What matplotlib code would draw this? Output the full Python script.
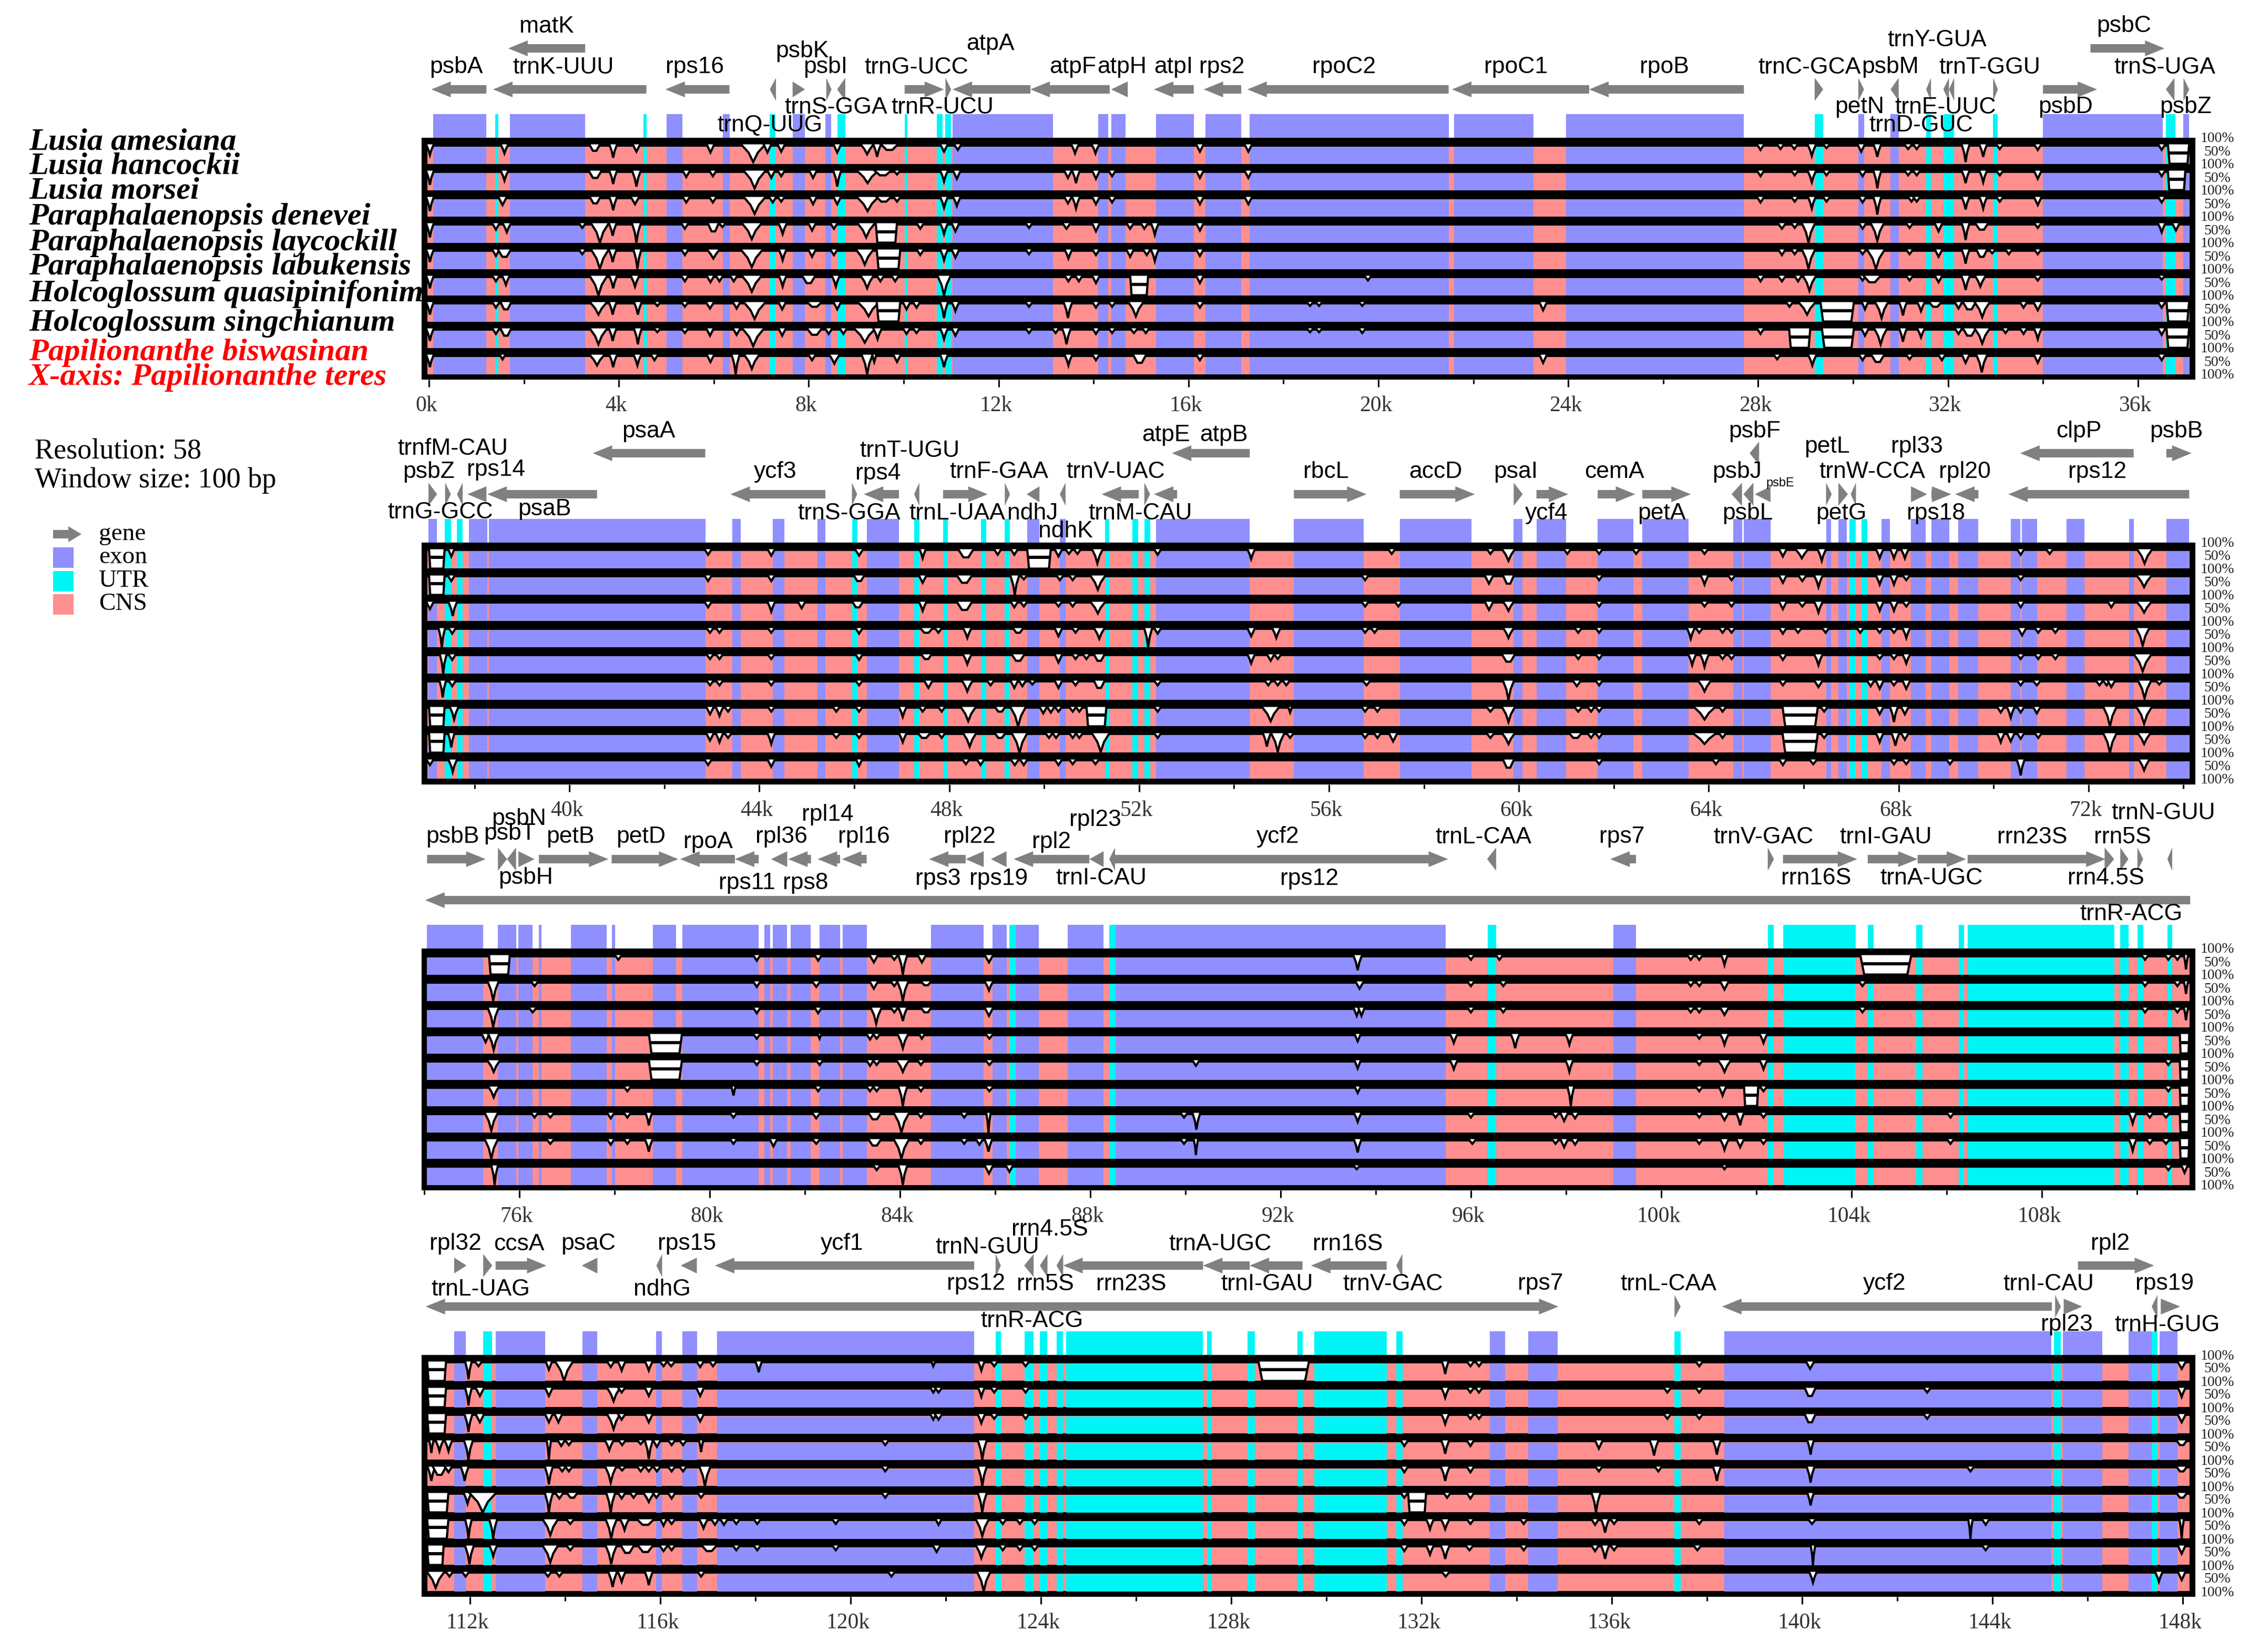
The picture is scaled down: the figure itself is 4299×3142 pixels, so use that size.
"""mVISTA-style identity plot of ten orchid plastomes."""

import matplotlib

matplotlib.use("Agg")
import matplotlib.pyplot as plt
from matplotlib.patches import Rectangle
from matplotlib.ticker import FuncFormatter, MultipleLocator
from matplotlib.transforms import ScaledTranslation

SPECIES = [
    "Lusia amesiana",
    "Lusia hancockii",
    "Lusia morsei",
    "Paraphalaenopsis denevei",
    "Paraphalaenopsis laycockill",
    "Paraphalaenopsis labukensis",
    "Holcoglossum quasipinifonim",
    "Holcoglossum singchianum",
    "Papilionanthe biswasinan",
    "X-axis: Papilionanthe teres",
]

ROW_STARTS = [0.0, 37.04, 74.1, 111.14]
ROW_PX_PER_KB = [90.3, 90.3, 90.5, 90.5]

# (start, end) in kb
EXONS = [
    [(0.09, 1.21), (1.70, 3.29), (5.01, 5.34), (6.19, 6.33), (7.66, 7.92), (8.35, 8.47), (11.03, 13.14),
     (14.10, 14.31), (14.37, 14.67), (15.32, 16.11), (16.36, 17.11), (17.29, 21.48), (21.6, 23.27),
     (23.95, 27.7), (30.11, 30.23), (30.79, 30.96), (34.0, 36.52), (36.96, 37.08)],
    [(37.03, 37.21), (37.88, 38.27), (38.3, 42.86), (43.43, 43.61), (44.28, 44.53), (45.22, 45.39),
     (46.26, 46.94), (49.64, 49.9), (50.33, 50.45), (52.36, 54.33), (55.26, 56.73), (57.49, 59.0),
     (59.89, 60.07), (60.37, 60.99), (61.66, 62.41), (62.6, 63.57), (64.51, 64.7), (64.74, 65.3),
     (66.47, 66.58), (66.73, 66.91), (67.64, 67.82), (68.26, 68.57), (68.69, 69.07), (69.25, 69.68),
     (70.36, 70.56), (70.6, 70.92), (71.54, 71.91), (72.85, 72.95), (73.64, 74.12)],
    [(74.06, 75.24), (75.55, 75.93), (75.98, 76.28), (76.41, 76.46), (77.08, 77.83), (77.94, 78.01),
     (78.81, 79.29), (79.43, 81.03), (81.15, 81.27), (81.33, 81.63), (81.7, 82.12), (82.31, 82.74),
     (82.8, 83.3), (84.65, 85.76), (85.95, 86.24), (86.43, 86.92), (87.53, 88.28), (88.53, 95.47),
     (98.99, 99.47)],
    [(111.67, 111.91), (112.54, 113.58), (114.37, 114.68), (115.91, 116.04), (116.47, 116.77),
     (117.19, 122.6), (133.44, 133.76), (134.25, 134.86), (138.37, 145.24), (145.48, 146.31),
     (146.86, 147.35), (147.52, 147.89)],
]

UTRS = [
    [(1.40, 1.46), (4.52, 4.58), (7.18, 7.3), (8.6, 8.77), (10.02, 10.08), (10.7, 10.82), (10.88, 11.0),
     (29.19, 29.37), (31.54, 31.64), (31.9, 32.13), (32.95, 33.05), (36.59, 36.79)],
    [(37.37, 37.5), (37.63, 37.75), (45.95, 46.06), (47.26, 47.37), (47.87, 47.97), (48.67, 48.78),
     (49.17, 49.28), (51.28, 51.37), (51.86, 51.98), (52.11, 52.23), (66.96, 67.1), (67.22, 67.34)],
    [(86.3, 86.43), (88.4, 88.53), (96.35, 96.53), (102.24, 102.37), (102.56, 104.09), (104.34, 104.46),
     (105.36, 105.49), (106.25, 106.36), (106.44, 109.52), (109.65, 109.82), (110.01, 110.13),
     (110.64, 110.74)],
    [(112.28, 112.47), (123.05, 123.16), (123.66, 123.85), (123.98, 124.14), (124.33, 124.47),
     (124.53, 127.41), (127.49, 127.59), (128.34, 128.5), (129.39, 129.5), (129.75, 131.27),
     (131.47, 131.6), (137.32, 137.45), (145.3, 145.44), (147.35, 147.47)],
]

# (tail, head, lane): head < tail points left; lane 1 is the upper arrow row
GENES = [
    [(1.21, 0.05, 0), (3.29, 1.67, 1), (4.58, 1.35, 0), (6.33, 4.98, 0), (7.31, 7.18, 0), (7.66, 7.92, 0),
     (8.37, 8.48, 0), (8.77, 8.6, 0), (10.02, 10.85, 0), (10.88, 11.0, 0), (12.67, 11.03, 0),
     (14.34, 12.67, 0), (14.72, 14.37, 0), (16.11, 15.27, 0), (17.11, 16.32, 0), (21.48, 17.24, 0),
     (24.44, 21.55, 0), (27.7, 24.44, 0), (29.19, 29.37, 0), (30.11, 30.23, 0), (30.96, 30.79, 0),
     (31.64, 31.54, 0), (32.02, 31.9, 0), (32.13, 32.02, 0), (32.95, 33.05, 0), (34.0, 35.14, 0),
     (35.0, 36.56, 1), (36.77, 36.59, 0), (36.96, 37.08, 0)],
    [(37.03, 37.21, 0), (37.38, 37.5, 0), (37.75, 37.63, 0), (38.25, 37.85, 0), (40.58, 38.27, 0),
     (42.86, 40.49, 1), (45.39, 43.39, 0), (45.95, 46.06, 0), (46.94, 46.2, 0), (47.37, 47.26, 0),
     (47.87, 48.81, 0), (49.17, 49.28, 0), (49.9, 49.63, 0), (50.45, 50.33, 0), (51.99, 51.21, 0),
     (52.11, 52.23, 0), (52.8, 52.31, 0), (54.33, 52.69, 1), (55.26, 56.79, 0), (57.49, 59.07, 0),
     (59.89, 60.08, 0), (60.37, 61.04, 0), (61.66, 62.45, 0), (62.6, 63.62, 0), (64.7, 64.48, 0),
     (64.94, 64.73, 0), (65.3, 64.97, 0), (65.06, 64.86, 1), (66.47, 66.59, 0), (66.73, 66.93, 0),
     (67.1, 66.99, 0), (68.26, 68.6, 0), (68.69, 69.11, 0), (69.68, 69.19, 0), (74.12, 70.31, 0),
     (72.95, 70.56, 1), (73.64, 74.17, 1)],
    [(74.06, 75.29, 1), (75.55, 75.74, 1), (75.93, 75.74, 1), (75.98, 76.32, 1), (76.41, 77.87, 1),
     (77.94, 79.34, 1), (80.53, 79.38, 1), (81.03, 80.53, 1), (81.63, 81.29, 1), (82.13, 81.65, 1),
     (82.74, 82.27, 1), (83.3, 82.78, 1), (85.38, 84.61, 1), (85.76, 85.38, 1), (86.24, 85.91, 1),
     (87.98, 86.39, 1), (88.28, 87.98, 1), (88.52, 88.4, 1), (88.52, 95.52, 1), (96.53, 96.34, 1),
     (99.47, 98.93, 1), (102.24, 102.37, 1), (102.56, 104.12, 1), (104.34, 105.39, 1), (105.39, 106.41, 1),
     (106.44, 109.34, 1), (109.32, 109.52, 1), (109.65, 109.82, 1), (110.01, 110.13, 1), (110.74, 110.64, 1),
     (111.12, 74.02, 0)],
    [(111.67, 111.93, 1), (112.28, 112.47, 1), (112.54, 113.61, 1), (114.68, 114.35, 1), (116.04, 115.92, 1),
     (116.77, 116.43, 1), (122.6, 117.15, 1), (123.05, 123.16, 1), (123.85, 123.65, 1), (124.14, 123.98, 1),
     (124.47, 124.33, 1), (127.41, 124.47, 1), (128.39, 127.41, 1), (129.5, 128.39, 1), (131.27, 129.68, 1),
     (131.6, 131.47, 1), (134.3, 111.07, 0), (134.25, 134.88, 0), (137.32, 137.45, 0), (145.25, 138.32, 0),
     (145.32, 145.44, 0), (145.5, 145.89, 0), (145.8, 147.4, 1), (147.47, 147.35, 0), (147.54, 147.95, 0)],
]

# (name, kb, height of the label in px above the panel top)
GENE_LABELS = [
    [("matK", 2.48, 212), ("psbA", 0.57, 134), ("trnK-UUU", 2.83, 134), ("rps16", 5.6, 134), ("psbK", 7.86, 165),
     ("psbI", 8.35, 134), ("trnG-UCC", 10.27, 134), ("atpA", 11.83, 179), ("atpF", 13.56, 134), ("atpH", 14.6, 134),
     ("trnS-GGA", 8.57, 58), ("trnR-UCU", 10.82, 58), ("trnQ-UUG", 7.18, 24), ("atpI", 15.68, 134),
     ("rps2", 16.7, 134), ("rpoC2", 19.27, 134), ("rpoC1", 22.9, 134), ("rpoB", 26.02, 134), ("trnC-GCA", 29.08, 134),
     ("psbM", 30.78, 134), ("trnY-GUA", 31.77, 185), ("trnT-GGU", 32.88, 134), ("psbC", 35.7, 212),
     ("trnS-UGA", 36.57, 134), ("petN", 30.13, 58), ("trnE-UUC", 31.95, 58), ("psbD", 34.47, 58), ("psbZ", 37.0, 58),
     ("trnD-GUC", 31.43, 24)],
    [("psaA", 41.67, 211), ("trnfM-CAU", 37.54, 178), ("psbZ", 37.04, 134), ("rps14", 38.45, 138), ("trnG-GCC", 37.28, 57),
     ("psaB", 39.48, 63), ("ycf3", 44.33, 134), ("trnT-UGU", 47.17, 174), ("rps4", 46.5, 131), ("trnF-GAA", 49.05, 134),
     ("trnV-UAC", 51.51, 134), ("trnS-GGA", 45.89, 55), ("trnL-UAA", 48.17, 55), ("ndhJ", 49.76, 55), ("ndhK", 50.45, 21),
     ("trnM-CAU", 52.03, 55), ("atpE", 52.57, 204), ("atpB", 53.78, 204), ("rbcL", 55.94, 134), ("accD", 58.25, 134),
     ("psaI", 59.93, 134), ("ycf4", 60.58, 55), ("cemA", 62.01, 134), ("petA", 63.01, 55), ("psbF", 64.96, 211),
     ("psbJ", 64.59, 134), ("psbL", 64.82, 55), ("petL", 66.49, 182), ("trnW-CCA", 67.44, 134), ("petG", 66.79, 55),
     ("rpl33", 68.39, 182), ("rpl20", 69.39, 134), ("rps18", 68.78, 55), ("rps12", 72.18, 134), ("clpP", 71.79, 211),
     ("psbB", 73.85, 211)],
    [("psbB", 74.6, 212), ("psbT", 75.8, 219), ("psbN", 75.99, 247), ("psbH", 76.13, 134), ("petB", 77.07, 212),
     ("petD", 78.55, 212), ("rpoA", 79.97, 203), ("rps11", 80.78, 125), ("rps8", 82.01, 125), ("rpl36", 81.51, 212),
     ("rpl14", 82.48, 255), ("rpl16", 83.24, 212), ("rps3", 84.8, 132), ("rpl22", 85.46, 212), ("rps19", 86.07, 132),
     ("rpl2", 87.18, 203), ("rpl23", 88.1, 245), ("trnI-CAU", 88.23, 134), ("ycf2", 91.94, 212), ("rps12", 92.6, 132),
     ("trnL-CAA", 96.26, 212), ("rps7", 99.18, 212), ("trnV-GAC", 102.15, 212), ("rrn16S", 103.26, 134),
     ("trnI-GAU", 104.72, 212), ("trnA-UGC", 105.68, 134), ("rrn23S", 107.8, 212), ("rrn5S", 109.7, 212),
     ("rrn4.5S", 109.35, 134), ("trnR-ACG", 109.88, 65), ("trnN-GUU", 110.55, 258)],
    [("rpl32", 111.7, 211), ("ccsA", 113.03, 211), ("psaC", 114.49, 211), ("rps15", 116.56, 211), ("ycf1", 119.82, 211),
     ("trnN-GUU", 122.88, 204), ("rrn4.5S", 124.19, 239), ("trnA-UGC", 127.77, 211), ("rrn16S", 130.45, 211),
     ("trnL-UAG", 112.23, 125), ("ndhG", 116.04, 125), ("rps12", 122.64, 135), ("rrn5S", 124.09, 135), ("rrn23S", 125.9, 135),
     ("trnI-GAU", 128.76, 135), ("trnR-ACG", 123.81, 64), ("trnV-GAC", 131.4, 135), ("rps7", 134.5, 135),
     ("trnL-CAA", 137.19, 135), ("ycf2", 141.73, 135), ("trnI-CAU", 145.18, 135), ("rpl23", 145.57, 57),
     ("rpl2", 146.48, 211), ("rps19", 147.62, 135), ("trnH-GUG", 147.68, 57)],
]

# per row, per track: (position kb, depth 0-1 of the coloured band[, width kb])
DIPS_ROW1 = [
    [(.02, .5), (1.59, .4), (3.49, .25, .25), (3.88, .65), (4.37, .3), (5.93, .35), (6.83, .9, .55), (7.13, .35), (7.42, .3),
     (8.6, .35), (9.23, .45, .3), (9.44, .6), (9.7, .2, .4), (10.85, .3), (11.14, .2), (13.61, .4), (14.04, .4), (16.24, .3),
     (17.26, .3), (28.05, .2), (28.47, .15), (28.76, .15), (29.13, .55, .2), (29.44, .1), (30.17, .3), (30.51, .6),
     (31.16, .15, .2), (31.34, .15), (32.37, .9), (32.74, .6), (33.09, .15), (33.89, .2), (36.5, .2)],
    [(.02, .7), (1.59, .45), (3.5, .3, .3), (3.88, .65), (4.37, .8, .2), (5.42, .25), (5.98, .2), (6.86, .9, .5), (7.21, .3),
     (7.42, .2), (8.09, .3), (8.6, .8), (9.24, .6, .5), (9.56, .15, .4), (9.86, .1), (10.85, .5), (11.12, .35), (13.46, .3),
     (13.63, .6), (14.05, .35), (14.39, .2), (16.24, .3), (17.26, .3), (28.05, .2), (28.77, .15), (29.13, .55, .2), (29.44, .15),
     (30.2, .2), (30.51, .9), (31.16, .15), (31.34, .15), (32.37, .6), (32.74, .55), (33.09, .15), (33.89, .35), (36.5, .2)],
    [(.02, .7), (1.55, .35, .2), (3.5, .25, .25), (3.88, .65), (4.34, .3, .2), (5.42, .2), (5.98, .2), (6.86, .85, .5), (7.24, .2),
     (7.42, .15), (8.09, .3), (8.6, .3), (9.24, .7, .5), (9.58, .15, .35), (9.86, .15), (10.85, .5), (11.12, .4), (13.46, .25),
     (13.63, .55), (14.05, .3), (14.39, .2), (16.24, .3), (17.26, .3), (28.05, .2), (28.77, .15), (29.13, .55), (29.44, .15),
     (30.2, .2), (30.51, .9), (31.23, .15), (31.34, .15), (32.37, .6), (32.74, .55), (33.09, .15), (33.89, .35), (36.5, .2)],
    [(.02, .7), (1.41, .25), (1.64, .4, .2), (3.23, .15), (3.6, 1, .4), (3.87, .6), (4.37, 1, .2), (5.39, .2), (5.99, .35, .25),
     (6.18, .1), (6.8, .8, .45), (7.45, .5, .2), (8.07, .3), (8.53, .2), (9.21, .7, .4), (10.35, .2), (10.85, .5), (11.09, .35),
     (12.64, .15), (13.43, .2, .2), (14.05, .35), (14.77, .2), (15.07, .2), (15.29, .55), (16.24, .3), (28.5, .2, .2), (28.77, .15),
     (29.06, 1, .3), (30.2, .2), (30.51, .9, .3), (31.19, .15), (31.8, .35), (32.37, .85), (32.71, .25, .3), (33.89, .15),
     (36.5, .4), (36.8, .3)],
    [(.02, .6), (1.41, .25), (1.59, .3, .3), (3.23, .15), (3.6, 1, .4), (3.87, .6), (4.39, 1), (5.39, .2), (5.99, .4, .3),
     (6.8, .9, .5), (7.45, .5), (8.07, .3), (8.53, .2), (9.18, .75, .4), (10.35, .2), (10.85, .5), (11.09, .35), (12.64, .15),
     (13.47, .4), (14.05, .2), (14.77, .3), (15.12, .2), (15.29, .55), (16.24, .25), (28.5, .2), (28.77, .15), (29.06, 1, .3),
     (30.2, .15), (30.48, 1, .4), (31.19, .15), (31.8, .3), (32.37, .7), (32.71, .3, .25), (32.93, .1), (33.28, .15), (33.89, .15)],
    [(.02, .6), (1.41, .2), (1.62, .4), (3.57, 1, .4), (3.88, .6), (4.34, .5, .2), (5.39, .2), (5.93, .25), (6.12, .2), (6.42, .2),
     (6.8, .8, .45), (7.45, .5), (8.0, .3, .3), (8.57, .5), (9.23, .6, .3), (9.51, .2), (9.82, .2), (10.85, 1, .3), (13.47, .2),
     (13.69, .2), (14.05, .3), (16.24, .3), (19.78, .15), (28.05, .2), (28.5, .2, .2), (28.84, .2), (29.08, .75, .3), (30.2, .15),
     (30.4, .25, .4), (31.19, .15), (31.8, .25), (32.37, .7, .2), (32.68, .5, .25), (33.89, .15), (36.5, .1)],
    [(.02, .6), (1.41, .2), (1.62, .3, .25), (3.57, .6, .4), (3.87, .6), (4.4, .6), (4.81, .1), (5.39, .15), (5.92, .25, .2),
     (6.48, .25), (6.86, .85, .5), (7.44, .3), (8.12, .15, .35), (8.6, .3), (9.26, .7, .5), (10.06, .3), (10.27, .2), (10.85, .8),
     (11.09, .4), (12.64, .15), (13.46, .8, .2), (14.05, .2), (14.39, .15), (14.89, .7, .35), (16.24, .2), (18.56, .1), (18.75, .1),
     (19.66, .1), (23.47, .35), (28.66, .15), (29.03, .6, .4), (30.25, .3, .15), (30.6, .8, .3), (31.05, .65), (31.43, .4),
     (31.73, .15, .3), (32.22, .25), (32.45, .3, .3), (32.72, .75, .35), (33.59, .2), (33.89, .35, .2), (36.5, .2)],
    [(.02, .6), (1.41, .2), (1.62, .3, .25), (3.57, .8, .4), (3.87, .6), (4.4, .8), (4.81, .1), (5.39, .15), (5.92, .3), (6.48, .25),
     (6.83, .9, .5), (7.44, .3), (8.12, .25, .35), (8.42, .2), (8.73, .2), (9.18, .7, .5), (9.45, .5, .2), (10.06, .2), (10.27, .15),
     (10.85, .5), (11.09, .3), (12.64, .15), (13.2, .15), (13.43, .8, .2), (14.05, .2), (14.39, .15), (14.85, .15, .2), (15.1, .15),
     (18.56, .1), (18.75, .1), (19.66, .15), (28.05, .2), (30.25, .3), (30.58, .8, .3), (31.05, .65), (31.43, .4), (32.22, .2),
     (32.45, .3, .3), (32.72, .75, .35), (33.21, .15), (33.59, .2), (33.89, .5), (36.5, .25)],
    [(.02, .6), (1.55, .15, .15), (3.54, .5, .35), (3.88, .6), (4.39, .5), (4.75, .2), (5.93, .3), (6.46, 1), (6.8, .7, .35),
     (8.07, .2), (8.54, .4, .25), (9.23, 1, .25), (9.38, .3, .1), (9.86, .3), (10.85, .6), (13.47, .5), (14.05, .2), (14.97, .35, .3),
     (16.24, .2), (23.47, .35), (28.4, .15), (29.14, .5, .2), (30.2, .2), (30.52, .3, .3), (31.19, .15), (31.87, .2), (32.37, .35),
     (32.71, .9, .25), (33.89, .35), (36.5, .2)],
]

DIPS_ROW2 = [
    [(37.51, .3, .15), (42.92, .2), (44.25, .25), (46.1, .25, .2), (47.44, .4, .15), (48.35, .35, .35), (49.02, .2), (49.37, .2),
     (50.3, .3), (50.52, .15), (50.7, .15), (51.12, .7, .25), (52.39, .2), (54.36, .45), (57.32, .15), (59.4, .15), (59.78, .55, .3),
     (61.02, .15), (61.69, .15), (62.47, .15), (63.91, .15), (65.56, .3), (65.96, .4, .3), (66.38, .55, .2), (67.6, .4), (67.9, .4),
     (68.13, .4), (70.57, .2), (71.18, .15), (73.18, .7, .35)],
    [(37.51, .2), (42.92, .2), (44.25, .2), (46.1, .2, .25), (47.44, .3), (48.32, .3, .35), (49.38, 1, .2), (49.57, .1), (50.33, .15),
     (50.6, .15), (51.13, .7, .35), (56.76, .15), (59.37, .35, .2), (59.78, .35, .25), (61.69, .15), (63.91, .4), (64.48, .15),
     (65.56, .3), (65.97, .2, .2), (66.31, .55, .2), (67.6, .4), (67.9, .4), (68.16, .15), (70.57, .15), (73.17, .55, .35)],
    [(37.06, .3), (37.54, .7, .2), (42.92, .2), (44.25, .45), (44.89, .25), (46.07, .2, .25), (47.44, .4), (48.32, .35, .35), (49.37, .2),
     (49.57, .15), (50.3, .15), (50.6, .15), (51.13, .55, .35), (56.76, .15), (57.46, .15), (59.37, .35, .2), (59.78, .4, .25),
     (61.69, .15), (63.91, .15), (64.48, .15), (65.56, .3), (65.97, .15, .2), (66.31, .5, .2), (67.6, .4), (67.9, .4), (68.16, .15),
     (70.57, .2), (72.48, .2), (73.17, .5, .35)],
    [(37.31, 1, .15), (37.53, .2), (42.96, .15), (43.16, .15), (44.25, .15), (46.1, .2), (47.52, .15, .3), (47.77, .15), (48.38, .45, .2),
     (49.45, .15, .25), (50.3, .35), (50.66, .15), (51.16, .5, .25), (52.19, 1), (52.39, .2), (54.36, .35), (54.89, .45, .2), (56.76, .15),
     (56.96, .15), (59.78, .45, .25), (61.25, .15), (61.69, .15), (63.62, .5), (63.8, .15), (64.29, .15), (64.48, .15), (65.56, .2),
     (65.88, .15), (66.46, .15), (67.19, .15), (67.6, .15), (67.9, .15), (68.16, .45), (70.6, .3, .2), (70.94, .15), (71.3, .15), (73.14, .9, .3)],
    [(37.34, 1, .15), (37.53, .2), (42.96, .15), (43.16, .15), (44.25, .15), (46.1, .2), (47.52, .15, .25), (48.38, .45, .2), (49.45, .25, .3),
     (50.3, .35), (50.66, .15), (50.89, .15), (51.16, .25, .25), (54.36, .4), (54.77, .25), (54.92, .15), (59.78, .3, .3), (61.25, .15),
     (61.69, .15), (63.65, .5), (63.91, .6, .2), (64.29, .15), (64.48, .15), (65.56, .2), (66.31, .5, .2), (67.6, .15), (67.9, .15),
     (68.16, .4), (70.57, .15), (70.94, .15), (71.3, .15), (73.14, .85, .4)],
    [(37.33, .85, .15), (37.53, .2), (42.96, .15), (43.16, .15), (44.25, .15), (46.1, .15), (47.56, .3, .2), (48.38, .5, .25), (48.87, .15),
     (49.37, .3), (49.54, .2), (49.75, .1), (50.3, .3), (50.66, .15), (51.16, .3, .25), (52.39, .15), (54.72, .15), (54.92, .15), (55.1, .15),
     (56.79, .15, .2), (59.78, 1, .25), (61.22, .2, .2), (61.69, .15), (63.91, .5, .3), (65.56, .15), (66.31, .25, .2), (67.41, .2), (67.6, .35),
     (67.9, .15), (68.16, .35), (70.57, .15), (70.91, .15, .2), (72.23, .15), (72.38, .15), (72.48, .25), (73.18, .9, .3), (73.49, .1)],
    [(37.57, .6, .2), (42.96, .3), (43.16, .4), (43.34, .15), (44.25, .15), (45.62, .15), (46.1, .15), (47.02, .45), (47.44, .15), (47.84, .15),
     (48.4, .7, .35), (49.07, .15, .25), (49.45, 1, .35), (49.98, .25), (50.14, .2), (50.3, .15), (50.6, .15), (50.74, .15), (52.39, .15),
     (54.77, .7, .4), (55.18, .2, .1), (56.76, .15), (57.02, .15), (59.4, .15, .2), (59.78, .75, .3), (61.25, .15, .2), (61.52, .15), (61.69, .15),
     (63.91, .6, .5), (64.29, .15), (66.43, .15), (67.6, .3), (67.9, .75), (68.13, .3), (70.15, .2), (70.36, .5), (70.57, .2), (70.91, .25),
     (72.45, 1, .3), (73.17, .85, .35)],
    [(37.51, .7, .15), (42.96, .3), (43.16, .4), (43.34, .15), (44.25, .5), (45.62, .15, .2), (46.1, .15), (47.02, .4), (47.47, .15, .3), (47.84, .15),
     (48.43, .65, .3), (49.07, .15, .25), (49.48, 1, .35), (50.1, .15), (50.25, .15), (50.6, .15), (50.74, .15), (51.19, .95, .4), (52.39, .15),
     (54.69, .65), (54.92, .95, .3), (55.18, .15), (56.76, .15), (57.02, .15), (57.35, .35, .2), (59.4, .15, .2), (59.78, .5, .3), (61.19, .15, .3),
     (61.52, .15), (61.69, .15), (63.91, .5, .55), (64.29, .15), (66.43, .15), (67.6, .4), (67.93, .6), (68.13, .25), (70.15, .4), (70.36, .35),
     (70.57, .2), (70.94, .15), (72.45, 1, .3), (73.17, .5, .3)],
    [(37.06, .2), (37.54, .6, .2), (42.92, .2), (44.25, .3), (46.1, .25, .15), (48.35, .15), (48.66, .2), (49.38, .2, .2), (49.57, .2), (50.3, .2),
     (50.6, .15), (51.08, .15), (59.78, .35, .25), (61.69, .15), (64.15, .15), (65.56, .2), (66.2, .15, .2), (67.9, .15), (68.16, .15), (69.08, .15),
     (70.57, .8), (73.17, .5, .25)],
]

DIPS_ROW3 = [
    [(78.08, .15), (80.99, .2), (82.28, .2), (83.45, .3, .2), (83.88, .15), (84.06, 1, .2), (84.46, .3, .2), (85.87, .3, .2), (93.62, .75, .2), (96.0, .15),
     (96.6, .15), (100.62, .15), (100.8, .15), (101.33, .45, .15), (110.17, .15), (110.66, .15), (110.85, .15), (111.03, .7, .1)],
    [(75.45, 1, .25), (76.32, .15), (80.99, .2), (82.24, .2, .2), (83.45, .3, .2), (83.88, .15), (84.06, 1, .25), (84.55, .1, .25), (85.87, .4, .2),
     (93.66, .3, .2), (96.0, .15), (96.68, .15), (100.62, .15), (100.8, .15), (101.33, .35, .2), (104.23, .15), (110.17, .15), (110.85, .15), (111.03, .6, .1)],
    [(75.45, 1, .25), (76.28, .15, .2), (80.99, .2), (82.28, .2), (83.5, .8, .25), (83.88, .15), (84.06, .65, .2), (84.55, .15, .25), (85.87, .35, .2),
     (93.6, .35, .15), (93.7, .35, .15), (96.0, .15), (96.68, .15), (100.62, .15), (100.8, .15), (101.33, .3, .2), (104.23, .15), (110.17, .15), (110.85, .15), (111.03, .6, .1)],
    [(75.29, .35), (75.46, .8, .25), (80.99, .15), (82.31, .15, .1), (83.37, .2), (83.51, .15), (84.06, .7, .25), (84.46, .15, .15), (85.88, .15, .2),
     (93.62, .3, .15), (95.64, .4), (96.93, .7, .2), (98.07, .5), (100.8, .15), (101.33, .5, .2), (102.15, .4)],
    [(75.46, .55, .3), (80.99, .15), (82.31, .15), (83.37, .2), (83.51, .15), (84.06, .55, .3), (84.44, .15), (85.88, .15, .2), (90.22, .2), (93.62, .35, .15),
     (95.64, .4), (98.07, .55), (100.8, .15), (101.33, .55, .3), (102.15, .4), (110.66, .15)],
    [(75.46, .5, .25), (78.27, .15), (80.5, .4, .1), (82.28, .15), (83.37, .15), (83.51, .15), (84.06, 1, .2), (84.44, .15), (85.88, .15, .2), (93.62, .25, .15),
     (98.1, 1, .15), (100.8, .15), (101.29, .4), (102.15, .15), (110.66, .15)],
    [(75.41, .9, .3), (76.32, .15), (76.65, .15, .2), (77.92, .2), (78.27, .15), (78.72, .6, .15), (80.5, .15), (82.24, .2, .2), (83.47, .25, .3), (84.03, 1, .35),
     (84.44, .15), (85.35, .15), (85.86, 1, .1), (89.97, .15), (90.23, .85), (93.62, .4), (96.0, .15), (97.78, .15), (97.96, .35), (98.19, .2), (100.8, .15),
     (101.33, .3, .2), (101.66, .6), (102.15, .15), (106.08, .15), (109.91, .5), (110.27, .15), (110.61, .15, .2)],
    [(75.41, 1, .3), (76.65, .15, .2), (77.92, .2), (78.27, .15), (78.72, .6), (80.5, .15), (81.34, .3), (82.24, .15, .2), (83.47, .25, .3), (84.03, 1, .35),
     (84.44, .15), (85.35, .15), (85.67, .2), (85.86, .6), (89.97, .15), (90.22, .8, .1), (93.62, .65), (96.03, .15, .2), (97.78, .15), (97.96, .35), (98.19, .2),
     (100.8, .15), (101.33, .5, .2), (101.66, .35), (102.15, .15), (106.08, .15), (109.91, .55), (110.27, .15), (110.61, .15, .2)],
    [(75.48, 1, .15), (83.51, .15), (84.06, 1, .2), (85.87, .35, .2), (86.3, .25), (93.6, .1), (101.33, .1, .15), (110.66, .15), (111.0, .3, .15)],
]

DIPS_ROW4 = [
    [(111.97, .9, .15), (112.18, .15), (113.66, .35, .15), (113.98, 1, .4), (114.96, .2), (115.19, .4), (115.76, .4), (116.07, .15), (116.23, .15, .2),
     (116.84, .2), (117.11, .15), (118.07, .5, .15), (121.74, .15, .1), (122.75, .4, .15), (123.02, .15), (123.68, .15), (132.5, .6, .15), (133.03, .15),
     (133.21, .15), (137.84, .15), (140.17, .3, .2), (147.98, .3, .2)],
    [(111.97, .9, .15), (112.21, .35, .2), (113.66, .35), (115.02, .65, .3), (115.19, .15), (115.76, .35), (116.84, .35), (121.74, .15, .15), (121.85, .15),
     (122.75, .4, .15), (123.02, .15), (123.68, .15), (132.5, .45), (133.03, .15), (133.21, .15), (137.17, .15), (137.84, .15), (140.17, .35, .25),
     (142.63, .15), (147.98, .4)],
    [(111.97, .9), (112.21, .35, .2), (113.66, .35), (113.86, .35), (115.02, .75, .3), (115.19, .2), (115.76, .35), (116.84, .3), (121.74, .2, .15), (121.85, .2),
     (122.75, .4), (123.02, .15), (123.68, .15), (132.5, .45), (133.03, .15), (133.21, .15), (137.17, .15), (137.84, .15), (140.17, .35, .25), (142.63, .15), (147.98, .35, .2)],
    [(111.19, .6, .1), (111.36, .5), (111.55, .5), (111.97, 1, .2), (113.66, 1, .1), (113.92, .2), (114.08, .15), (114.93, .45, .2), (115.2, .15), (115.59, .1),
     (115.76, .95), (115.93, .25), (116.24, .15), (116.48, .15), (116.86, .55, .1), (120.73, .15), (122.77, 1, .2), (131.64, .2), (132.5, .65), (133.03, .2),
     (135.73, .35), (136.89, .75, .2), (138.21, .7), (140.18, .7, .15), (147.98, .15, .25)],
    [(111.19, .7), (111.36, .35, .3), (111.55, .2), (111.89, .7), (113.66, .9), (113.94, .15), (114.08, .15), (114.96, .8, .25), (115.2, .1), (115.59, .15),
     (115.76, .15), (115.93, .15), (116.24, .15), (116.48, .15), (116.94, 1, .25), (120.73, .15), (122.77, 1, .2), (131.64, .2), (132.5, .7, .2), (133.03, .2),
     (135.73, .15), (136.98, .15), (138.21, .7), (140.18, .8), (143.54, .15), (147.98, .15, .25)],
    [(111.95, .5), (112.27, 1, .6), (113.66, 1), (113.88, .2, .2), (114.15, .15, .25), (114.96, 1, .2), (115.19, .2), (115.44, .15), (115.76, .4, .25), (115.92, .15),
     (116.24, .2), (116.86, .15), (120.73, .15), (122.77, 1, .2), (131.64, .15), (132.54, .15), (133.03, .2), (135.67, 1, .2), (140.18, .6, .15), (147.98, .15, .25)],
    [(111.97, 1, .15), (112.49, 1), (113.69, .8, .35), (114.11, .15, .2), (114.97, 1, .25), (115.25, .5, .2), (115.69, .2, .4), (116.07, .25, .15), (116.24, .15),
     (116.91, .4, .2), (117.15, .2), (117.34, .2), (117.6, .15), (118.04, .15), (119.69, .15), (121.85, .2, .15), (122.77, .85, .3), (123.2, .15), (123.56, .15),
     (123.87, .15), (131.64, .2), (132.18, .45), (132.5, .45, .2), (133.03, .15), (134.15, .15), (135.65, .2), (135.86, .65), (136.05, .15), (137.84, .15),
     (140.21, .15, .2), (143.54, 1, .1), (143.86, .2), (147.98, 1, .1)],
    [(111.99, .95, .2), (112.49, .5), (113.69, .85, .35), (114.11, .15, .2), (114.97, .95, .25), (115.31, .3, .3), (115.69, .25, .35), (116.07, .2, .2), (116.24, .15),
     (117.03, .2, .35), (117.6, .15), (118.04, .15), (119.69, .15), (121.81, .25), (122.75, .6, .25), (123.2, .15), (123.56, .15), (123.87, .15), (131.64, .2),
     (132.18, .4), (132.5, .65, .2), (133.01, .15, .2), (134.15, .15), (135.65, .2), (135.86, .65), (136.05, .15), (137.8, .15, .2), (140.23, 1, .1), (143.86, .15), (147.98, .35)],
    [(111.28, .8, .4), (111.57, .15), (111.91, .15), (113.64, .15), (113.88, .15), (115.0, .75, .2), (115.19, .45), (115.76, .65), (116.86, .15), (120.86, .15),
     (122.8, 1, .3), (132.51, .15, .2), (140.23, .5), (147.5, .45), (147.98, .35)],
]

# wide alignment gaps: (start, end) in kb
GAPS_ROW1 = [[(36.63, 37.08)], [(36.63, 37.0)], [], [(9.41, 9.86)], [(9.43, 9.93)], [(14.77, 15.15)],
             [(9.43, 9.93), (29.31, 30.02), (36.6, 37.08)], [(28.65, 29.1), (29.34, 30.02), (36.6, 37.08)], []]
GAPS_ROW2 = [[(37.04, 37.37), (49.64, 50.14)], [(37.04, 37.37)], [], [], [], [],
             [(37.04, 37.37), (50.89, 51.31), (65.55, 66.3)], [(37.04, 37.37), (65.55, 66.3)], []]
GAPS_ROW3 = [[(75.36, 75.8), (104.18, 105.26)], [], [], [(78.72, 79.42), (110.9, 111.1)], [(78.72, 79.42), (110.9, 111.1)],
             [(101.74, 102.04), (110.9, 111.1)], [(110.9, 111.1)], [(110.9, 111.1)], []]
GAPS_ROW4 = [[(111.1, 111.5), (128.57, 129.64)], [(111.1, 111.5)], [(111.1, 111.5)], [], [], [(111.1, 111.55), (131.72, 132.1)],
             [(111.1, 111.55)], [(111.1, 111.45)], []]

ALL_DIPS = [DIPS_ROW1, DIPS_ROW2, DIPS_ROW3, DIPS_ROW4]
ALL_GAPS = [GAPS_ROW1, GAPS_ROW2, GAPS_ROW3, GAPS_ROW4]

EXON_COLOR = "#8F8FFF"
UTR_COLOR = "#00F6F6"
CNS_COLOR = "#FF8F8F"
GENE_COLOR = "#808080"

FIG_W, FIG_H = 4299, 3142
PANEL_TOPS = [262, 1032, 1804, 2577]
PANEL_LEFT, PANEL_RIGHT = 802, 4176
ZERO_PX = 816
ABOVE, PANEL_H = 262, 460
TRACK_PITCH, BAND_TOP, BAND_H = 50, 16.5, 33
LANE_Y = [-92, -170]
SANS = "Liberation Sans"
SERIF = "Liberation Serif"


def draw_gene(ax, tail, head, lane, px_per_kb):
    """One annotation arrow; short genes are only a tall arrowhead."""
    y = LANE_Y[lane]
    sign = 1 if head > tail else -1
    length = abs(head - tail)
    head_len = min(37 / px_per_kb, length)
    half = 22 if length < 0.25 else 15
    neck = head - sign * head_len
    xs = [tail, neck, neck, head, neck, neck, tail]
    ys = [y - 8, y - 8, y - half, y, y + half, y + 8, y + 8]
    ax.fill(xs, ys, color=GENE_COLOR, lw=0)


def draw_dip(ax, x, depth, width, band_y):
    """White notch under the 100% line, funnelled into a black tail when deep."""
    top = band_y - 6
    tip = band_y + depth * BAND_H
    half = width / 2
    if depth > 0.35:
        waist = band_y + depth * BAND_H * 0.4
        xs = [x - half, x - half * 0.35, x, x + half * 0.35, x + half]
        ys = [top, waist, tip, waist, top]
    elif width >= 0.25:
        xs = [x - half, x - half * 0.3, x + half * 0.3, x + half]
        ys = [top, tip, tip, top]
    else:
        xs = [x - half, x, x + half]
        ys = [top, tip, top]
    ax.fill(xs, ys, facecolor="white", edgecolor="black", lw=3.0, joinstyle="miter", zorder=4)


def draw_gap(ax, start, end, band_y):
    inset = (end - start) * 0.08
    xs = [start, start + inset, end - inset, end]
    ys = [band_y - 6, band_y + BAND_H, band_y + BAND_H, band_y - 6]
    ax.fill(xs, ys, facecolor="white", edgecolor="black", lw=3.0, joinstyle="miter", zorder=5)
    ax.fill_between([start + inset * 0.5, end - inset * 0.5], band_y + 9, band_y + 15, color="black", lw=0, zorder=6)


def draw_panel(fig, row):
    top = PANEL_TOPS[row]
    ppk = ROW_PX_PER_KB[row]
    start = ROW_STARTS[row]
    bottom_frac = 1 - (top + PANEL_H) / FIG_H
    ax = fig.add_axes(
        [PANEL_LEFT / FIG_W, bottom_frac, (PANEL_RIGHT - PANEL_LEFT) / FIG_W, (PANEL_H + ABOVE) / FIG_H]
    )
    ax.patch.set_visible(False)
    x_min = start + (PANEL_LEFT - ZERO_PX) / ppk
    x_max = start + (PANEL_RIGHT - ZERO_PX) / ppk
    ax.set_xlim(x_min, x_max)
    ax.set_ylim(PANEL_H, -ABOVE)
    for side in ax.spines.values():
        side.set_visible(False)

    data_min = x_min + 11 / ppk
    data_max = x_max - 11 / ppk
    ax.add_patch(Rectangle((x_min, 0), x_max - x_min, PANEL_H, color="black", lw=0, zorder=1))

    spans = [(a, b - a) for a, b in EXONS[row]]
    utr_spans = [(a, b - a) for a, b in UTRS[row]]
    ax.broken_barh(spans, (-45, 45), color=EXON_COLOR, lw=0, zorder=2)
    ax.broken_barh(utr_spans, (-45, 45), color=UTR_COLOR, lw=0, zorder=2)

    pct = dict(transform=ax.get_yaxis_transform(), ha="center", va="center", family=SERIF, fontsize=20, color="#222222")
    for i in range(len(ALL_DIPS[row])):
        band_y = BAND_TOP + TRACK_PITCH * i
        ax.broken_barh([(data_min, data_max - data_min)], (band_y, BAND_H), color=CNS_COLOR, lw=0, zorder=2)
        ax.broken_barh(spans, (band_y, BAND_H), color=EXON_COLOR, lw=0, zorder=3)
        ax.broken_barh(utr_spans, (band_y, BAND_H), color=UTR_COLOR, lw=0, zorder=3)
        for dip in ALL_DIPS[row][i]:
            width = dip[2] if len(dip) > 2 else 0.18
            draw_dip(ax, dip[0], dip[1], width, band_y)
        for gap_start, gap_end in ALL_GAPS[row][i]:
            draw_gap(ax, gap_start, gap_end, band_y)
        ax.text(1.0125, 2 + TRACK_PITCH * i, "100%", **pct)
        ax.text(1.0125, 27 + TRACK_PITCH * i, "50%", **pct)
    ax.text(1.0125, 2 + TRACK_PITCH * 9, "100%", **pct)

    for tail, head, lane in GENES[row]:
        draw_gene(ax, tail, head, lane, ppk)
    for name, x, height in GENE_LABELS[row]:
        ax.text(x, -height, name, ha="center", va="center", family=SANS, fontsize=32, zorder=7)
    if row == 1:
        ax.text(65.5, -113, "psbE", ha="center", va="center", family=SANS, fontsize=17, zorder=7)

    ax.yaxis.set_visible(False)
    ax.xaxis.set_major_locator(MultipleLocator(4))
    ax.xaxis.set_minor_locator(MultipleLocator(2))
    ax.xaxis.set_major_formatter(FuncFormatter(lambda v, _: f"{int(round(v))}k"))
    ax.tick_params(axis="x", which="major", length=10, width=2.2, pad=12, labelsize=30, labelcolor="#333333")
    ax.tick_params(axis="x", which="minor", length=6, width=2.2)
    shift = ScaledTranslation(-5 / 100, 0, fig.dpi_scale_trans)
    for label in ax.get_xticklabels():
        label.set_family(SERIF)
        label.set_transform(label.get_transform() + shift)
    return ax


fig = plt.figure(figsize=(FIG_W / 100, FIG_H / 100), dpi=100, facecolor="white")
for row_index in range(4):
    draw_panel(fig, row_index)

overlay = fig.add_axes([0, 0, 1, 1])
overlay.set_xlim(0, FIG_W)
overlay.set_ylim(FIG_H, 0)
overlay.axis("off")

SPECIES_Y = [270, 316, 363, 413, 462, 508, 559, 615, 671, 718]
for i, name in enumerate(SPECIES):
    color = "red" if i >= 8 else "black"
    overlay.text(55, SPECIES_Y[i], name, family=SERIF, style="italic", weight="bold", fontsize=43.5,
                 color=color, ha="left", va="center")

overlay.text(66, 859, "Resolution: 58", family=SERIF, fontsize=39, ha="left", va="center")
overlay.text(66, 914, "Window size: 100 bp", family=SERIF, fontsize=39, ha="left", va="center")

overlay.fill([101, 130, 130, 155, 130, 130, 101], [1008, 1008, 1001, 1016, 1031, 1024, 1024], color=GENE_COLOR, lw=0)
LEGEND_NAMES = ["exon", "UTR", "CNS"]
LEGEND_COLORS = [EXON_COLOR, UTR_COLOR, CNS_COLOR]
LEGEND_TOPS = [1041, 1086, 1130]
overlay.text(188, 1016, "gene", family=SERIF, fontsize=34, ha="left", va="center")
for name, color, y in zip(LEGEND_NAMES, LEGEND_COLORS, LEGEND_TOPS):
    overlay.add_patch(Rectangle((101, y), 39, 39, color=color, lw=0))
    overlay.text(188, y + 19, name, family=SERIF, fontsize=34, ha="left", va="center")

fig.savefig("out.png", dpi=100)
plt.close(fig)
